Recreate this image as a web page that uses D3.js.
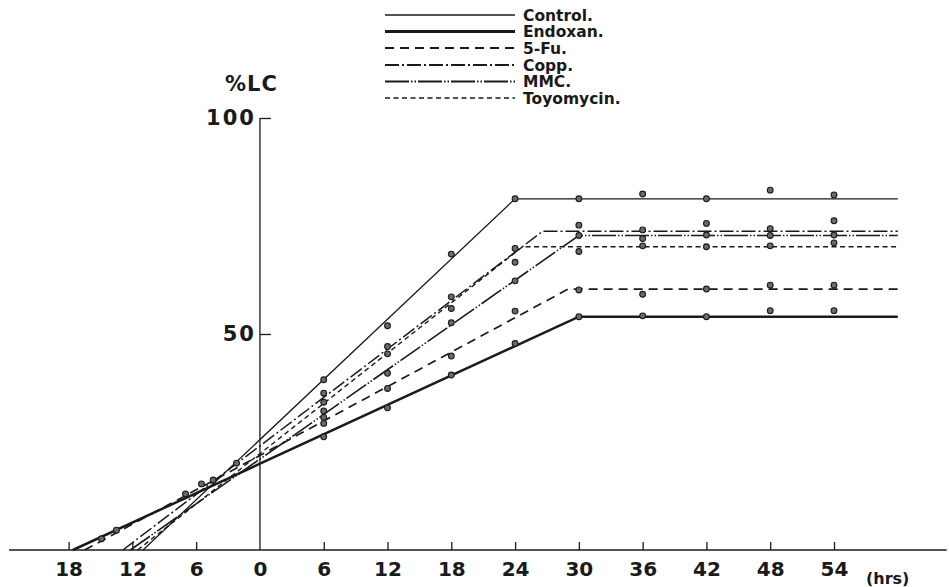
<!DOCTYPE html>
<html>
<head>
<meta charset="utf-8">
<script src="https://cdn.jsdelivr.net/npm/d3@7"></script>
<style>
  html, body { margin: 0; padding: 0; background: #fff; }
  #container { width: 949px; height: 587px; }
  text { font-family: 'DejaVu Sans', sans-serif; font-weight: bold; fill: #1a1a1a; }
</style>
</head>
<body>
<div id="container"></div>
<script>
// observed %LC values at each hour
const hours = [6, 12, 18, 24, 30, 36, 42, 48, 54]
const control = [39.4, 51.9, 68.5, 81.3, 81.3, 82.4, 81.3, 83.3, 82.2]
const endoxan = [26.2, 32.9, 40.5, 47.8, 54.0, 54.2, 54.0, 55.4, 55.4]
const fu = [29.3, 37.4, 44.9, 55.3, 60.2, 59.2, 60.4, 61.3, 61.3]
const copp = [36.3, 47.1, 58.6, 69.8, 75.2, 74.1, 75.6, 74.4, 76.2]
const mmc = [32.2, 40.9, 52.6, 62.3, 72.8, 72.1, 72.9, 72.8, 72.9]
const toyomycin = [34.2, 45.4, 55.9, 66.6, 69.1, 70.4, 70.2, 70.4, 71.1]

// extra points (near the origin)
const extraHours = [6, -14.9, -13.5, -7.0, -5.5, -4.4, -2.2]
const extraValues = [30.7, 2.6, 4.6, 13.0, 15.3, 16.2, 20.1]

// fitted lines: x-intercept, knee, plateau level
const seriesNames = ['Control.', 'Endoxan.', '5-Fu.', 'Copp.', 'MMC.', 'Toyomycin.']
const startHours = [-11.0, -17.6, -16.5, -12.9, -12.2, -11.5]
const kneeHours = [24, 30, 29, 26.6, 30, 24.7]
const plateaus = [81.3, 54.0, 60.4, 73.8, 72.8, 70.2]
const endHour = 60

const xTicks = [-18, -12, -6, 0, 6, 12, 18, 24, 30, 36, 42, 48, 54]
const yTicks = [50, 100]

const styles = [
  { w: 1.3, dash: null },
  { w: 2.5, dash: null },
  { w: 1.7, dash: '9,6' },
  { w: 1.5, dash: '14,3,2,3' },
  { w: 1.6, dash: '24,2,1.5,2,1.5,2' },
  { w: 1.4, dash: '5,3.5' }
]

const width = 949
const height = 587

const svg = d3.select('#container')
  .append('svg')
  .attr('width', width)
  .attr('height', height)

const x = d3.scaleLinear().domain([-18, 54]).range([68.6, 834])
const y = d3.scaleLinear().domain([0, 100]).range([550, 118])

const ink = '#1a1a1a'

// x axis
const xAxis = svg.append('g')
  .attr('transform', `translate(0,${y(0)})`)
  .call(d3.axisBottom(x)
    .tickValues(xTicks)
    .tickSizeInner(-8)
    .tickSizeOuter(0)
    .tickPadding(8)
    .tickFormat(d => Math.abs(d)))
xAxis.select('.domain').remove()
xAxis.selectAll('line').attr('stroke', ink).attr('stroke-width', 1.3)
xAxis.selectAll('.tick').filter(d => d === 0).select('line').remove()
xAxis.selectAll('text')
  .attr('fill', ink)
  .style('font-size', '20px')
  .attr('dy', '0.9em')

svg.append('line')
  .attr('x1', x(-23.6)).attr('x2', x(64.6))
  .attr('y1', y(0)).attr('y2', y(0))
  .attr('stroke', ink).attr('stroke-width', 1.6)

// y axis
const yAxis = svg.append('g')
  .attr('transform', `translate(${x(0)},0)`)
  .call(d3.axisLeft(y)
    .tickValues(yTicks)
    .tickSizeInner(-11)
    .tickSizeOuter(0)
    .tickPadding(4))
yAxis.select('.domain').remove()
yAxis.selectAll('line').attr('stroke', ink).attr('stroke-width', 1.3)
yAxis.selectAll('text')
  .attr('fill', ink)
  .style('font-size', '21px')
  .attr('letter-spacing', '2px')

svg.append('line')
  .attr('x1', x(0)).attr('x2', x(0))
  .attr('y1', y(100)).attr('y2', y(0))
  .attr('stroke', ink).attr('stroke-width', 1.3)

svg.append('text')
  .attr('x', 225).attr('y', 91)
  .style('font-size', '21px')
  .attr('letter-spacing', '1px')
  .text('%LC')

svg.append('text')
  .attr('x', 866).attr('y', 584)
  .style('font-size', '16px')
  .text('(hrs)')

// fitted lines
const line = d3.line()
  .x(d => x(d[0]))
  .y(d => y(d[1]))

seriesNames.forEach((name, i) => {
  const pts = [[startHours[i], 0], [kneeHours[i], plateaus[i]], [endHour, plateaus[i]]]
  svg.append('path')
    .datum(pts)
    .attr('fill', 'none')
    .attr('stroke', ink)
    .attr('stroke-width', styles[i].w)
    .attr('stroke-dasharray', styles[i].dash)
    .attr('d', line)
})

// observed points
const observed = [control, endoxan, fu, copp, mmc, toyomycin]
const points = []
observed.forEach(vals => {
  vals.forEach((v, j) => points.push([hours[j], v]))
})
extraHours.forEach((h, j) => points.push([h, extraValues[j]]))

svg.append('g')
  .selectAll('circle')
  .data(points)
  .enter()
  .append('circle')
  .attr('cx', d => x(d[0]))
  .attr('cy', d => y(d[1]))
  .attr('r', 2.9)
  .attr('fill', '#6a6a6a')
  .attr('stroke', ink)
  .attr('stroke-width', 1.1)

// legend
const legendY = [15, 31.5, 48, 65, 81.5, 98]
const legend = svg.append('g')
seriesNames.forEach((name, i) => {
  legend.append('line')
    .attr('x1', 385).attr('x2', 515)
    .attr('y1', legendY[i]).attr('y2', legendY[i])
    .attr('stroke', ink)
    .attr('stroke-width', styles[i].w + 0.3)
    .attr('stroke-dasharray', styles[i].dash)
  legend.append('text')
    .attr('x', 523).attr('y', legendY[i])
    .attr('dy', '0.36em')
    .style('font-size', '15.5px')
    .text(name)
})
</script>
</body>
</html>
